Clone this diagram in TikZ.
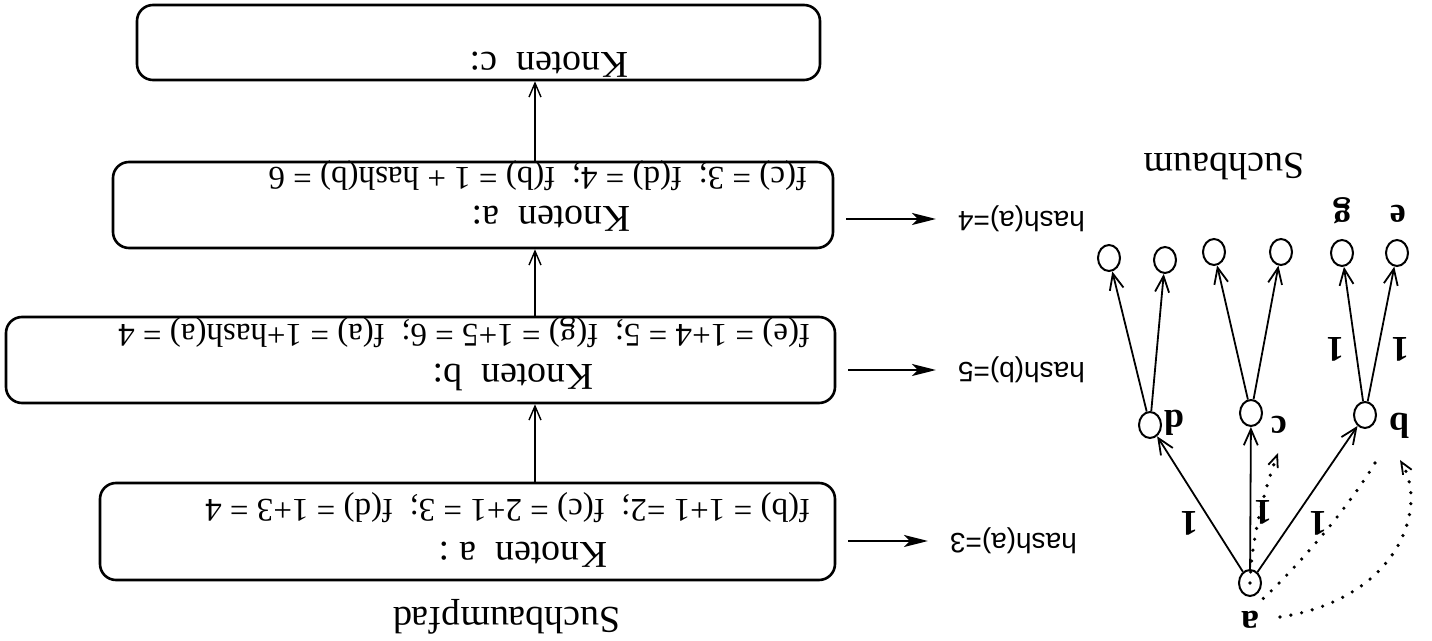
\documentclass[tikz,border=0pt]{standalone}
\usepackage{fontspec}
\setmainfont{Liberation Serif}
\setsansfont{Liberation Sans}
\usetikzlibrary{shapes.geometric, arrows.meta, positioning, calc}

\begin{document}
\begin{tikzpicture}[
    x=0.5pt, y=-0.5pt,
    flip/.style={rotate=180, inner sep=0pt, outer sep=0pt},
    pfad/.style={rectangle, draw, line width=1.3pt, rounded corners=8pt, inner sep=0pt},
    knotentext/.style={flip, anchor=base west, font=\fontsize{19}{22}\selectfont},
    formel/.style={flip, anchor=base west, font=\fontsize{16.5}{19}\selectfont},
    hashtext/.style={flip, anchor=east, font=\sffamily\fontsize{14}{17}\selectfont},
    titel/.style={flip, font=\fontsize{19}{22}\selectfont},
    marke/.style={flip, font=\bfseries\fontsize{18}{21}\selectfont},
    kreis/.style={ellipse, draw, line width=1pt, minimum width=11pt, minimum height=13pt, inner sep=0pt},
    line/.style={draw, line width=0.7pt, -{Straight Barb[length=7pt, width=6pt]}},
    hashline/.style={draw, line width=1.3pt, -{Stealth[length=12pt, width=6pt, inset=3pt]}, shorten <=6pt, shorten >=11pt},
    kante/.style={draw, line width=0.9pt, -{Straight Barb[length=8pt, width=7pt]}},
    punkt/.style={draw, line width=1.8pt, line cap=round, dash pattern=on 0pt off 5.5pt},
    punktpfeil/.style={-{Straight Barb[length=6pt, width=5pt, line width=0.9pt]}}
]
\useasboundingbox (0,0) rectangle (1432,641);

% Suchbaumpfad
\node (knC) [pfad, minimum width=341.5pt, minimum height=37.5pt] at (478.5,42.5) {};
\node (knA2) [pfad, minimum width=360pt, minimum height=43pt] at (473,205) {};
\node (knB) [pfad, minimum width=414.5pt, minimum height=43pt] at (420.5,360) {};
\node (knA) [pfad, minimum width=367.5pt, minimum height=48.5pt] at (467.5,531.5) {};

\node (tC) [knotentext] at (628,53) {Knoten\ \ c:};
\node (tA2) [knotentext] at (630,207) {Knoten\ \ a:};
\node (fA2) [formel] at (807,168) {f(c) = 3;~~f(d) = 4;~~f(b) = 1 + hash(b) = 6};
\node (tB) [knotentext] at (593,365) {Knoten\ \ b:};
\node (fB) [formel] at (810,325) {f(e) = 1+4 = 5;~~f(g) = 1+5 = 6;~~f(a) = 1+hash(a) = 4};
\node (tA) [knotentext] at (607,543) {Knoten\ \ a :};
\node (fA) [formel] at (810,500) {f(b) = 1+1 =2;~~f(c) = 2+1 = 3;~~f(d) = 1+3 = 4};
\node (pfadtitel) [titel] at (507,617) {Suchbaumpfad};

\coordinate (achse) at (535,0);
\path [line] (knA.north -| achse) -- (knB.south -| achse);
\path [line] (knB.north -| achse) -- (knA2.south -| achse);
\path [line] (knA2.north -| achse) -- (knC.south -| achse);

% hash values
\node (hashA2) [hashtext] at (958,219) {hash(a)=4};
\node (hashB) [hashtext] at (958,370) {hash(b)=5};
\node (hashA) [hashtext] at (950,541) {hash(a)=3};
\path [hashline] (knA2.east |- hashA2.east) -- (hashA2.east);
\path [hashline] (knB.east |- hashB.east) -- (hashB.east);
\path [hashline] (knA.east |- hashA.east) -- (hashA.east);

% Suchbaum
\node (ra) [kreis] at (1250,583) {};
\node (rd) [kreis] at (1150,425) {};
\node (rc) [kreis] at (1251,413) {};
\node (rb) [kreis] at (1365,415) {};
\node (d1) [kreis] at (1109,258) {};
\node (d2) [kreis] at (1165,260) {};
\node (c1) [kreis] at (1214,252) {};
\node (c2) [kreis] at (1281,252) {};
\node (g) [kreis] at (1342,253) {};
\node (e) [kreis] at (1397,253) {};

\path [kante] (ra) -- (rd);
\path [kante] (ra) -- (rc);
\path [kante] (ra) -- (rb);
\path [kante] (rd) -- (d1);
\path [kante] (rd) -- (d2);
\path [kante] (rc) -- (c1);
\path [kante] (rc) -- (c2);
\path [kante] (rb) -- (g);
\path [kante] (rb) -- (e);

\node (la) [marke] at (1250,620) {a};
\node (ld) [marke] at (1174,423) {d};
\node (lc) [marke] at (1279,425) {c};
\node (lb) [marke] at (1399,426) {b};
\node (lg) [marke] at (1342,211) {g};
\node (le) [marke] at (1398,214) {e};
\node (w1) [marke] at (1189,523) {1};
\node (w2) [marke] at (1263,512) {1};
\node (w3) [marke] at (1318,523) {1};
\node (w4) [marke] at (1335,349) {1};
\node (w5) [marke] at (1400,349) {1};
\node (baum) [titel] at (1224,167) {Suchbaum};

% backtracking
\coordinate (chin) at (1278,453);
\coordinate (bzur) at (1375,463);
\coordinate (bhin) at (1400,460);
\path [punkt, punktpfeil] (ra.center) .. controls (1252,530) and (1268,480) .. (chin);
\path [punkt] (bzur) .. controls (1350,505) and (1300,565) .. ([yshift=-5pt]ra.south east);
\path [punkt, punktpfeil] ($(ra)+(30,34)$) .. controls (1395,600) and (1430,510) .. (bhin);

\end{tikzpicture}
\end{document}
